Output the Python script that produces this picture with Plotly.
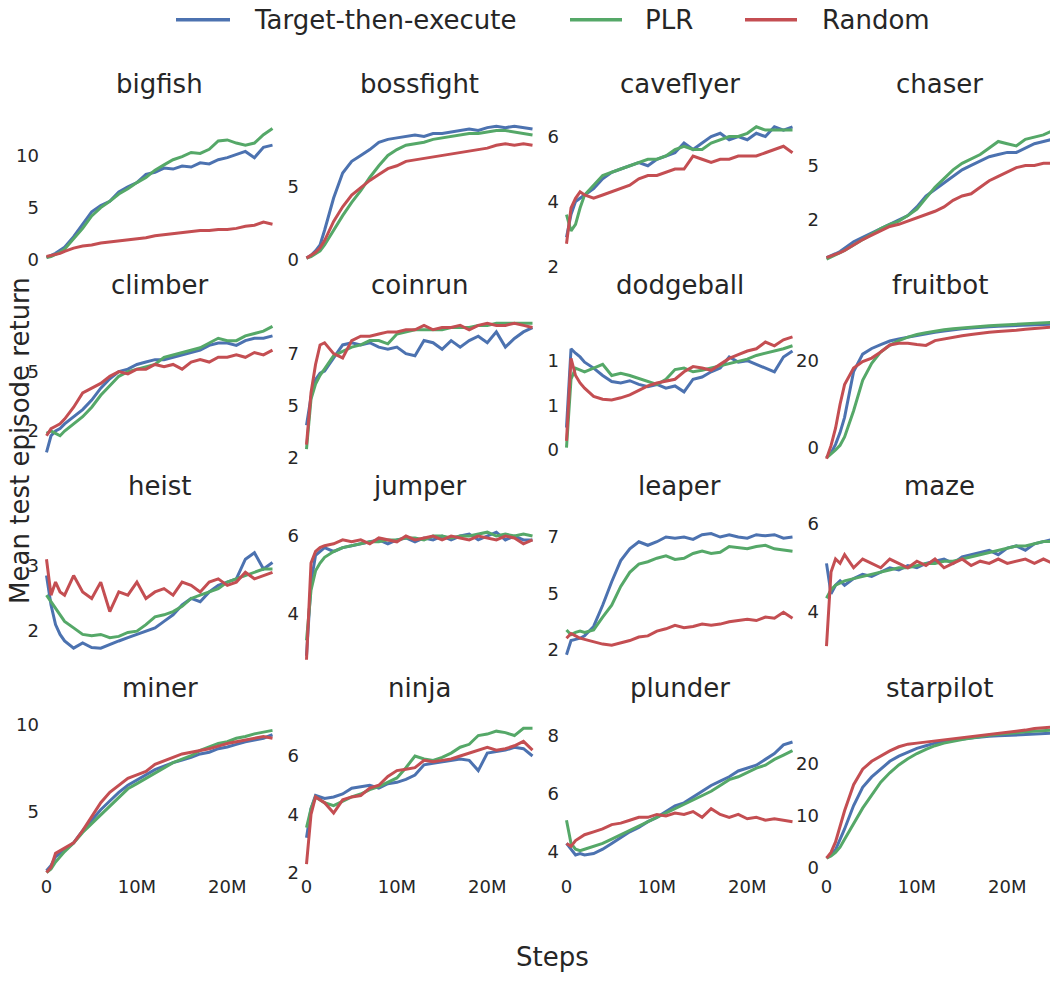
import plotly.graph_objects as go

# ---------------- data ----------------
STEPS_M = [0, 0.5, 1, 1.5, 2, 3, 4, 5, 6, 7, 8, 9, 10, 11, 12, 13, 14, 15, 16,
           17, 18, 19, 20, 21, 22, 23, 24, 25]
SERIES = ["Target-then-execute", "PLR", "Random"]
GAMES = ["bigfish", "bossfight", "caveflyer", "chaser",
         "climber", "coinrun", "dodgeball", "fruitbot",
         "heist", "jumper", "leaper", "maze",
         "miner", "ninja", "plunder", "starpilot"]

bigfish_tte = [0.2, 0.4, 0.6, 0.9, 1.2, 2.2, 3.4, 4.6, 5.2, 5.6, 6.5, 7.0, 7.4, 8.2, 8.4, 8.8, 8.7, 9.0, 8.9, 9.3, 9.2, 9.6, 9.8, 10.1, 10.4, 9.8, 10.8, 11.0]
bigfish_plr = [0.2, 0.3, 0.5, 0.7, 1.0, 2.0, 3.0, 4.2, 5.0, 5.6, 6.3, 6.8, 7.4, 7.9, 8.6, 9.1, 9.6, 9.9, 10.3, 10.2, 10.6, 11.4, 11.5, 11.2, 11.0, 11.2, 12.0, 12.6]
bigfish_rand = [0.3, 0.4, 0.5, 0.6, 0.8, 1.1, 1.3, 1.4, 1.6, 1.7, 1.8, 1.9, 2.0, 2.1, 2.3, 2.4, 2.5, 2.6, 2.7, 2.8, 2.8, 2.9, 2.9, 3.0, 3.2, 3.3, 3.6, 3.4]

bossfight_tte = [0.1, 0.3, 0.6, 1.0, 2.0, 4.2, 5.9, 6.7, 7.1, 7.5, 8.0, 8.2, 8.3, 8.4, 8.5, 8.4, 8.6, 8.6, 8.7, 8.8, 8.9, 8.8, 9.0, 9.1, 9.0, 9.1, 9.0, 8.9]
bossfight_plr = [0.1, 0.2, 0.4, 0.6, 1.0, 2.0, 3.0, 3.9, 4.7, 5.6, 6.4, 7.1, 7.5, 7.8, 7.9, 8.0, 8.2, 8.3, 8.4, 8.5, 8.6, 8.6, 8.7, 8.8, 8.8, 8.7, 8.6, 8.5]
bossfight_rand = [0.1, 0.3, 0.5, 0.8, 1.3, 2.6, 3.6, 4.4, 4.9, 5.4, 5.8, 6.2, 6.4, 6.7, 6.8, 6.9, 7.0, 7.1, 7.2, 7.3, 7.4, 7.5, 7.6, 7.8, 7.9, 7.8, 7.9, 7.8]

caveflyer_tte = [2.9, 3.6, 4.0, 4.1, 4.2, 4.4, 4.7, 4.9, 5.0, 5.1, 5.2, 5.1, 5.3, 5.4, 5.5, 5.8, 5.6, 5.8, 6.0, 6.1, 5.9, 6.0, 5.9, 6.1, 6.0, 6.3, 6.2, 6.3]
caveflyer_plr = [3.6, 3.1, 3.3, 3.8, 4.2, 4.5, 4.8, 4.9, 5.0, 5.1, 5.2, 5.3, 5.3, 5.4, 5.6, 5.7, 5.6, 5.6, 5.8, 5.9, 6.0, 6.0, 6.1, 6.3, 6.2, 6.2, 6.2, 6.2]
caveflyer_rand = [2.7, 3.8, 4.1, 4.3, 4.2, 4.1, 4.2, 4.3, 4.4, 4.5, 4.7, 4.8, 4.8, 4.9, 5.0, 5.0, 5.4, 5.3, 5.2, 5.3, 5.3, 5.4, 5.4, 5.4, 5.5, 5.6, 5.7, 5.5]

chaser_tte = [0.77, 0.85, 0.95, 1.05, 1.2, 1.5, 1.7, 1.9, 2.1, 2.3, 2.5, 2.7, 3.1, 3.6, 3.9, 4.2, 4.5, 4.8, 5.0, 5.2, 5.4, 5.5, 5.6, 5.6, 5.8, 6.0, 6.1, 6.2]
chaser_plr = [0.7, 0.8, 0.9, 1.0, 1.1, 1.35, 1.6, 1.85, 2.1, 2.3, 2.45, 2.7, 3.0, 3.5, 4.0, 4.4, 4.8, 5.1, 5.3, 5.5, 5.8, 6.1, 6.0, 5.9, 6.2, 6.3, 6.4, 6.6]
chaser_rand = [0.77, 0.85, 0.9, 1.0, 1.1, 1.35, 1.6, 1.8, 2.0, 2.2, 2.3, 2.45, 2.6, 2.75, 2.9, 3.1, 3.4, 3.6, 3.7, 4.0, 4.3, 4.5, 4.7, 4.9, 5.0, 5.0, 5.1, 5.1]

climber_tte = [1.6, 2.3, 2.5, 2.6, 2.8, 3.1, 3.4, 3.8, 4.3, 4.7, 5.0, 5.1, 5.3, 5.4, 5.5, 5.5, 5.6, 5.7, 5.8, 5.9, 6.1, 6.2, 6.2, 6.1, 6.3, 6.4, 6.4, 6.5]
climber_plr = [2.4, 2.5, 2.4, 2.3, 2.5, 2.8, 3.1, 3.5, 4.0, 4.4, 4.8, 5.0, 5.1, 5.2, 5.3, 5.6, 5.7, 5.8, 5.9, 6.0, 6.2, 6.4, 6.3, 6.3, 6.5, 6.6, 6.7, 6.9]
climber_rand = [2.3, 2.6, 2.7, 2.8, 3.0, 3.5, 4.1, 4.3, 4.5, 4.8, 5.0, 4.9, 5.1, 5.1, 5.3, 5.2, 5.3, 5.1, 5.4, 5.5, 5.4, 5.6, 5.6, 5.7, 5.6, 5.8, 5.7, 5.9]

coinrun_tte = [3.9, 5.2, 6.0, 6.3, 6.4, 7.0, 7.6, 7.7, 7.6, 7.7, 7.5, 7.4, 7.5, 7.2, 7.1, 7.8, 7.7, 7.4, 7.8, 7.5, 7.8, 8.0, 7.7, 8.2, 7.5, 7.9, 8.2, 8.4]
coinrun_plr = [2.8, 5.1, 5.8, 6.2, 6.5, 7.1, 7.3, 7.5, 7.6, 7.8, 7.8, 7.65, 8.1, 8.2, 8.3, 8.3, 8.3, 8.3, 8.4, 8.4, 8.4, 8.5, 8.5, 8.6, 8.6, 8.6, 8.6, 8.6]
coinrun_rand = [3.0, 5.4, 6.7, 7.6, 7.7, 7.2, 7.0, 7.8, 8.0, 8.0, 8.1, 8.2, 8.2, 8.3, 8.3, 8.5, 8.3, 8.4, 8.4, 8.5, 8.3, 8.5, 8.6, 8.5, 8.5, 8.6, 8.5, 8.4]

dodgeball_tte = [0.3, 1.36, 1.3, 1.25, 1.18, 1.1, 1.0, 0.92, 0.9, 0.93, 0.88, 0.85, 0.88, 0.83, 0.86, 0.78, 0.95, 0.98, 1.05, 1.1, 1.25, 1.18, 1.2, 1.15, 1.1, 1.05, 1.25, 1.33]
dodgeball_plr = [0.03, 0.95, 1.1, 1.08, 1.05, 1.1, 1.15, 1.0, 1.03, 1.0, 0.96, 0.92, 0.88, 0.95, 1.08, 1.1, 1.05, 1.07, 1.1, 1.12, 1.15, 1.18, 1.22, 1.27, 1.3, 1.32, 1.36, 1.4]
dodgeball_rand = [0.12, 1.23, 1.0, 0.9, 0.83, 0.72, 0.68, 0.67, 0.7, 0.74, 0.8, 0.86, 0.9, 0.92, 0.95, 1.05, 1.12, 1.1, 1.07, 1.15, 1.23, 1.28, 1.33, 1.36, 1.45, 1.4, 1.48, 1.52]

fruitbot_tte = [-2.2, -1.2, 0.8, 3.5, 7.0, 17.5, 21.5, 22.8, 23.7, 24.5, 25.0, 25.4, 25.8, 26.2, 26.5, 26.8, 27.1, 27.3, 27.5, 27.7, 27.8, 27.9, 28.0, 28.1, 28.2, 28.3, 28.3, 28.4]
fruitbot_plr = [-2.3, -1.5, -0.5, 0.6, 2.5, 8.5, 15.5, 19.4, 22.0, 23.5, 24.6, 25.4, 26.0, 26.4, 26.8, 27.1, 27.3, 27.5, 27.7, 27.9, 28.0, 28.1, 28.2, 28.4, 28.5, 28.6, 28.7, 28.8]
fruitbot_rand = [-2.5, 0.5, 4.5, 10.0, 14.5, 18.3, 19.8, 20.6, 22.0, 23.6, 24.0, 24.0, 23.7, 23.5, 24.6, 25.0, 25.4, 25.7, 26.0, 26.3, 26.5, 26.7, 26.8, 27.0, 27.2, 27.4, 27.6, 27.7]

heist_tte = [2.85, 2.4, 2.1, 1.95, 1.85, 1.74, 1.82, 1.75, 1.74, 1.8, 1.85, 1.9, 1.95, 2.0, 2.05, 2.15, 2.25, 2.4, 2.5, 2.45, 2.6, 2.7, 2.75, 2.8, 3.1, 3.2, 2.95, 3.05]
heist_plr = [2.55, 2.45, 2.35, 2.25, 2.15, 2.05, 1.95, 1.93, 1.95, 1.9, 1.92, 1.98, 2.0, 2.1, 2.22, 2.25, 2.3, 2.38, 2.5, 2.55, 2.6, 2.65, 2.75, 2.8, 2.85, 2.9, 2.95, 2.95]
heist_rand = [3.1, 2.55, 2.75, 2.6, 2.55, 2.85, 2.6, 2.5, 2.75, 2.3, 2.6, 2.55, 2.75, 2.5, 2.6, 2.65, 2.55, 2.75, 2.7, 2.6, 2.75, 2.8, 2.7, 2.75, 2.9, 2.8, 2.85, 2.9]

jumper_tte = [2.9, 4.8, 5.5, 5.6, 5.7, 5.6, 5.7, 5.75, 5.8, 5.85, 5.9, 5.8, 5.9, 5.95, 5.85, 5.95, 5.9, 6.0, 5.9, 6.0, 6.05, 5.9, 6.0, 6.1, 5.9, 6.0, 5.9, 5.9]
jumper_plr = [3.3, 4.6, 5.1, 5.3, 5.45, 5.6, 5.7, 5.75, 5.8, 5.85, 5.85, 5.9, 5.9, 5.95, 5.95, 5.9, 6.0, 6.0, 5.95, 6.0, 6.0, 6.05, 6.1, 6.0, 6.05, 6.0, 6.05, 6.0]
jumper_rand = [2.8, 5.3, 5.6, 5.7, 5.75, 5.8, 5.9, 5.85, 5.9, 5.8, 5.95, 5.9, 5.85, 6.0, 5.9, 5.95, 6.0, 5.9, 6.0, 5.95, 5.9, 6.0, 5.95, 5.9, 6.0, 5.95, 5.8, 5.9]

leaper_tte = [2.2, 2.8, 2.85, 2.9, 3.0, 3.4, 4.3, 5.3, 6.2, 6.7, 7.0, 6.85, 7.0, 7.2, 7.15, 7.2, 7.1, 7.3, 7.35, 7.2, 7.3, 7.2, 7.15, 7.3, 7.25, 7.3, 7.15, 7.2]
leaper_plr = [3.25, 3.05, 3.15, 3.2, 3.15, 3.25, 3.8, 4.3, 5.1, 5.7, 6.05, 6.15, 6.3, 6.4, 6.25, 6.3, 6.5, 6.6, 6.5, 6.55, 6.8, 6.75, 6.7, 6.8, 6.85, 6.7, 6.65, 6.6]
leaper_rand = [2.9, 3.1, 3.0, 2.9, 2.85, 2.75, 2.65, 2.6, 2.7, 2.8, 2.95, 3.0, 3.2, 3.3, 3.45, 3.35, 3.4, 3.5, 3.45, 3.5, 3.6, 3.65, 3.7, 3.65, 3.8, 3.75, 4.0, 3.75]

maze_tte = [5.1, 4.4, 4.6, 4.7, 4.6, 4.75, 4.85, 4.8, 4.9, 5.0, 4.95, 5.05, 5.0, 5.1, 5.15, 5.2, 5.1, 5.25, 5.3, 5.35, 5.4, 5.3, 5.45, 5.5, 5.4, 5.55, 5.6, 5.65]
maze_plr = [4.3, 4.5, 4.6, 4.65, 4.7, 4.75, 4.8, 4.85, 4.9, 4.95, 5.0, 5.0, 5.05, 5.1, 5.1, 5.15, 5.15, 5.2, 5.25, 5.3, 5.35, 5.4, 5.45, 5.5, 5.5, 5.55, 5.6, 5.6]
maze_rand = [3.2, 4.9, 5.2, 5.1, 5.3, 5.0, 5.2, 5.1, 5.0, 5.2, 5.1, 5.0, 5.15, 5.05, 5.2, 5.0, 5.1, 5.2, 5.05, 5.15, 5.1, 5.2, 5.1, 5.15, 5.2, 5.1, 5.2, 5.1]

miner_tte = [1.6, 1.9, 2.4, 2.6, 2.8, 3.2, 3.9, 4.5, 5.1, 5.6, 6.1, 6.5, 6.8, 7.1, 7.4, 7.6, 7.8, 7.95, 8.1, 8.3, 8.4, 8.6, 8.7, 8.85, 9.0, 9.1, 9.2, 9.4]
miner_plr = [1.5, 1.7, 2.1, 2.4, 2.7, 3.2, 3.8, 4.3, 4.8, 5.3, 5.8, 6.3, 6.6, 6.9, 7.2, 7.5, 7.8, 8.0, 8.2, 8.5, 8.7, 8.9, 9.0, 9.2, 9.3, 9.45, 9.55, 9.65]
miner_rand = [1.5, 1.8, 2.6, 2.75, 2.9, 3.2, 3.9, 4.7, 5.5, 6.1, 6.5, 6.9, 7.1, 7.3, 7.7, 7.9, 8.1, 8.3, 8.4, 8.5, 8.6, 8.75, 8.9, 9.0, 9.1, 9.2, 9.3, 9.2]

ninja_tte = [3.2, 4.2, 4.65, 4.6, 4.55, 4.6, 4.7, 4.9, 4.95, 5.0, 4.9, 5.05, 5.1, 5.2, 5.35, 5.7, 5.75, 5.8, 5.85, 5.9, 5.85, 5.5, 6.1, 6.15, 6.2, 6.3, 6.25, 6.0]
ninja_plr = [3.55, 4.2, 4.6, 4.5, 4.4, 4.3, 4.45, 4.6, 4.7, 4.85, 4.95, 5.1, 5.25, 5.6, 6.0, 5.9, 5.85, 5.95, 6.1, 6.3, 6.4, 6.7, 6.75, 6.85, 6.8, 6.7, 6.95, 6.95]
ninja_rand = [2.3, 4.0, 4.6, 4.5, 4.4, 4.05, 4.5, 4.6, 4.65, 4.9, 5.0, 5.3, 5.5, 5.55, 5.6, 5.85, 5.8, 5.85, 5.9, 6.0, 6.1, 6.2, 6.3, 6.2, 6.25, 6.35, 6.5, 6.2]

plunder_tte = [4.3, 4.1, 3.9, 3.95, 3.9, 3.95, 4.1, 4.3, 4.5, 4.7, 4.85, 5.05, 5.2, 5.4, 5.6, 5.7, 5.9, 6.1, 6.3, 6.45, 6.6, 6.8, 6.9, 7.0, 7.2, 7.4, 7.7, 7.8]
plunder_plr = [5.1, 4.3, 4.1, 4.05, 4.1, 4.2, 4.3, 4.45, 4.6, 4.75, 4.9, 5.05, 5.2, 5.35, 5.5, 5.65, 5.8, 5.95, 6.1, 6.3, 6.5, 6.6, 6.75, 6.9, 7.0, 7.2, 7.35, 7.5]
plunder_rand = [4.3, 4.2, 4.4, 4.5, 4.6, 4.7, 4.8, 4.95, 5.0, 5.1, 5.2, 5.2, 5.3, 5.25, 5.35, 5.3, 5.4, 5.2, 5.5, 5.3, 5.2, 5.3, 5.15, 5.2, 5.1, 5.15, 5.1, 5.05]

starpilot_tte = [1.9, 2.5, 3.5, 5.5, 7.5, 12.0, 15.5, 17.5, 19.0, 20.5, 21.5, 22.3, 23.0, 23.5, 24.0, 24.3, 24.6, 24.8, 25.0, 25.2, 25.3, 25.4, 25.5, 25.6, 25.7, 25.8, 25.8, 25.9]
starpilot_plr = [1.9, 2.3, 3.0, 4.0, 5.5, 8.5, 11.5, 14.0, 16.5, 18.3, 19.8, 21.0, 22.0, 22.8, 23.5, 24.0, 24.4, 24.7, 25.0, 25.3, 25.5, 25.7, 25.8, 26.0, 26.2, 26.3, 26.4, 26.5]
starpilot_rand = [1.9, 3.0, 5.0, 8.0, 11.0, 16.0, 19.0, 20.5, 21.5, 22.5, 23.3, 23.8, 24.0, 24.2, 24.5, 24.7, 24.8, 25.0, 25.3, 25.5, 25.7, 25.9, 26.0, 26.3, 26.5, 26.8, 27.0, 27.1]

# y tick values and their printed labels (as shown in the reference)
Y_TICKS = {
    "bigfish": ([0, 5, 10], ["0", "5", "10"]),
    "bossfight": ([0, 5], ["0", "5"]),
    "caveflyer": ([2, 4, 6], ["2", "4", "6"]),
    "chaser": ([2.5, 5], ["2", "5"]),
    "climber": ([2.5, 5], ["2", "5"]),
    "coinrun": ([2.4, 4.8, 7.2], ["2", "5", "7"]),
    "dodgeball": ([0, 0.6, 1.2], ["0", "1", "1"]),
    "fruitbot": ([0, 20], ["0", "20"]),
    "heist": ([2, 3], ["2", "3"]),
    "jumper": ([4, 6], ["4", "6"]),
    "leaper": ([2.4, 4.8, 7.2], ["2", "5", "7"]),
    "maze": ([4, 6], ["4", "6"]),
    "miner": ([5, 10], ["5", "10"]),
    "ninja": ([2, 4, 6], ["2", "4", "6"]),
    "plunder": ([4, 6, 8], ["4", "6", "8"]),
    "starpilot": ([0, 10, 20], ["0", "10", "20"]),
}
X_TICKS = [0, 10e6, 20e6]
X_TICKTEXT = ["0", "10M", "20M"]

DATA = {g: (globals()[g + "_tte"], globals()[g + "_plr"], globals()[g + "_rand"]) for g in GAMES}

# ---------------- layout helpers ----------------
W, H = 1050, 981
COLORS = ["#4C72B0", "#55A868", "#C44E52"]
TXT = "#262626"
FONT = "DejaVu Sans"

# y calibration per panel: (pixel row, value at that row, pixels per unit)
Y_CAL = {
    "bigfish": (262, 0, 10.5), "bossfight": (262, 0, 14.8),
    "caveflyer": (269, 2, 32.8), "chaser": (277, 0, 22.0),
    "climber": (495, 0, 24.0), "coinrun": (462, 2.4, 21.9),
    "dodgeball": (454, 0, 75.0), "fruitbot": (452, 0, 4.4),
    "heist": (637, 2, 66.0), "jumper": (619, 4, 39.0),
    "leaper": (656, 2.4, 23.75), "maze": (617, 4, 44.0),
    "miner": (819, 5, 17.6), "ninja": (881, 2, 29.5),
    "plunder": (860, 4, 29.25), "starpilot": (876, 0, 5.25),
}
PX_PER_STEP = 9.04e-6

fig = go.Figure()
layout = {}
annotations = []
shapes = []
for i, g in enumerate(GAMES):
    r, c = divmod(i, 4)
    sfx = "" if i == 0 else str(i + 1)
    xs = [s * 1e6 for s in STEPS_M]
    for k, (name, col) in enumerate(zip(SERIES, COLORS)):
        fig.add_trace(go.Scatter(
            x=xs, y=DATA[g][k], mode="lines", name=name,
            line=dict(color=col, width=3), showlegend=False, cliponaxis=False,
            xaxis="x" + sfx, yaxis="y" + sfx,
        ))
    x0 = 40 + 260 * c
    x1 = min(280 + 260 * c, W)
    zero_px = 46.5 + 260 * c
    xr = [(x0 - zero_px) / PX_PER_STEP, (x1 - zero_px) / PX_PER_STEP]
    top = 110 + 203 * r
    bot = 274 + 203 * r if r < 3 else 882
    py, pv, k = Y_CAL[g]
    yr = [pv + (py - bot) / k, pv + (py - top) / k]
    tv, tt = Y_TICKS[g]
    layout["xaxis" + sfx] = dict(
        domain=[x0 / W, x1 / W], range=xr, anchor="y" + sfx,
        showgrid=False, zeroline=False, showline=False, ticks="",
        tickvals=X_TICKS, ticktext=X_TICKTEXT, showticklabels=(r == 3),
        tickfont=dict(size=18, color=TXT, family=FONT), ticklabelstandoff=0,
    )
    layout["yaxis" + sfx] = dict(
        domain=[1 - bot / H, 1 - top / H], range=yr, anchor="x" + sfx,
        showgrid=False, zeroline=False, showline=False, ticks="",
        tickvals=tv, ticktext=tt,
        tickfont=dict(size=18, color=TXT, family=FONT),
    )
    annotations.append(dict(
        text=g, x=(46.5 + 260 * c + 113) / W, y=1 - (85 + 203 * r) / H,
        xref="paper", yref="paper", showarrow=False, xanchor="center", yanchor="middle",
        font=dict(size=26, color=TXT, family=FONT),
    ))

annotations.append(dict(text="Mean test episode return", x=20 / W, y=1 - 445 / H,
                        xref="paper", yref="paper", showarrow=False, textangle=-90,
                        xanchor="center", yanchor="middle",
                        font=dict(size=26, color=TXT, family=FONT)))
annotations.append(dict(text="Steps", x=552 / W, y=1 - 966 / H,
                        xref="paper", yref="paper", showarrow=False,
                        xanchor="center", yanchor="middle",
                        font=dict(size=26, color=TXT, family=FONT)))

# legend drawn manually (line sample + label)
LEG_LINE = [(176, 230), (570, 622), (745, 797)]
LEG_TEXT = [252, 643, 820]
LEG_Y = 20
for name, col, (la, lb), tx in zip(SERIES, COLORS, LEG_LINE, LEG_TEXT):
    shapes.append(dict(type="line", xref="paper", yref="paper",
                       x0=la / W, x1=lb / W, y0=1 - LEG_Y / H, y1=1 - LEG_Y / H,
                       line=dict(color=col, width=3.5)))
    annotations.append(dict(text=name, x=tx / W, y=1 - LEG_Y / H, xref="paper", yref="paper",
                            showarrow=False, xanchor="left", yanchor="middle",
                            font=dict(size=26, color=TXT, family=FONT)))

fig.update_layout(
    width=W, height=H, margin=dict(l=0, r=0, t=0, b=0),
    paper_bgcolor="white", plot_bgcolor="white",
    showlegend=False,
    annotations=annotations, shapes=shapes,
    **layout,
)

fig.write_html("out.html", config={"displayModeBar": False},
               post_script="document.body.style.margin='0px';document.body.style.overflow='hidden';")
